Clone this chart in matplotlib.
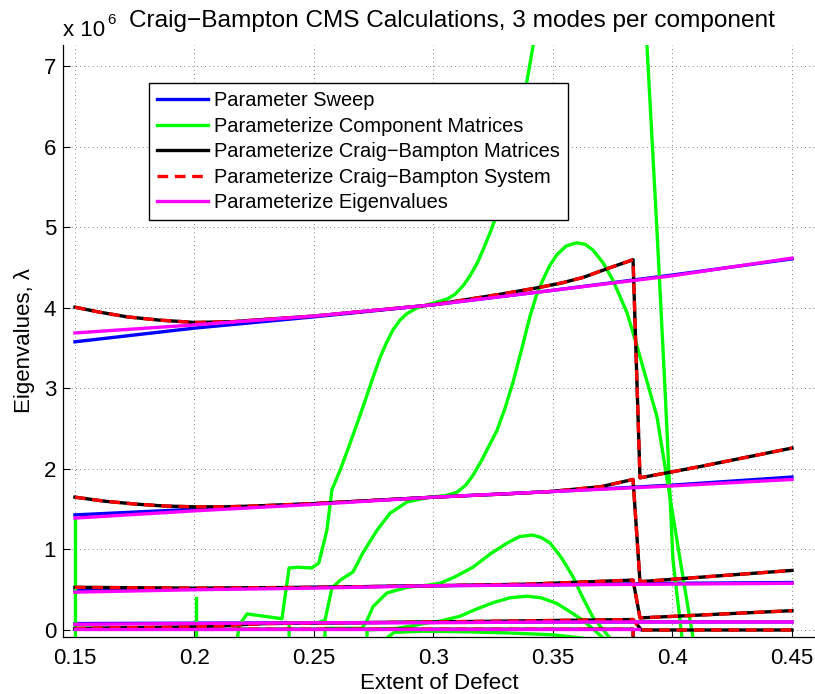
import numpy as np
import matplotlib
matplotlib.use('Agg')
import matplotlib.pyplot as plt

plt.rcParams['font.family'] = ['Liberation Sans', 'DejaVu Sans']

MINUS = '\u2212'

# eigenvalues in units of 1e6
x_grid = [0.15, 0.20, 0.25, 0.30, 0.35, 0.40, 0.45]

sweep_modes = [
    [3.58, 3.75, 3.89, 4.04, 4.22, 4.41, 4.61],
    [1.43, 1.50, 1.57, 1.65, 1.72, 1.80, 1.90],
    [0.49, 0.51, 0.53, 0.55, 0.56, 0.58, 0.59],
    [0.08, 0.085, 0.09, 0.095, 0.10, 0.10, 0.10],
]

eig_modes = [
    [3.69, 3.79, 3.90, 4.04, 4.22, 4.40, 4.62],
    [1.39, 1.48, 1.56, 1.65, 1.72, 1.79, 1.87],
    [0.47, 0.50, 0.52, 0.55, 0.56, 0.57, 0.58],
    [0.07, 0.08, 0.09, 0.09, 0.10, 0.10, 0.10],
]
eig_low_x = [0.15, 0.25, 0.35, 0.386]
eig_low_y = [0.01, 0.01, 0.01, 0.01]

# Craig-Bampton matrices / system (same values)
cb_x1 = [0.15, 0.16, 0.1718, 0.185, 0.20, 0.216, 0.23, 0.25, 0.30, 0.3278,
         0.3433, 0.3535, 0.3626, 0.3738, 0.3835, 0.3864, 0.4115, 0.45]
cb_y1 = [4.01, 3.95, 3.89, 3.85, 3.82, 3.83, 3.86, 3.90, 4.04, 4.17,
         4.25, 4.31, 4.38, 4.50, 4.60, 1.89, 2.03, 2.26]
cb_x2 = [0.15, 0.1625, 0.175, 0.1875, 0.20, 0.2125, 0.225, 0.25, 0.30, 0.33,
         0.3488, 0.37, 0.3835, 0.3864, 0.45]
cb_y2 = [1.65, 1.60, 1.565, 1.54, 1.53, 1.53, 1.54, 1.57, 1.65, 1.69,
         1.72, 1.78, 1.87, 0.60, 0.74]
cb_x3 = [0.15, 0.20, 0.25, 0.30, 0.34, 0.3835, 0.3864, 0.45]
cb_y3 = [0.53, 0.52, 0.53, 0.55, 0.57, 0.62, 0.15, 0.24]
cb_x4 = [0.15, 0.20, 0.23, 0.30, 0.3835, 0.387, 0.45]
cb_y4 = [0.02, 0.04, 0.08, 0.10, 0.13, 0.00, 0.00]
cb_x5 = [0.15, 0.3835, 0.3836]
cb_y5 = [0.01, 0.01, -0.50]

# component-matrix parameterization
comp_xa = [0.2180, 0.2187, 0.222, 0.2366, 0.2396, 0.243, 0.249, 0.252, 0.2554,
           0.2575, 0.261, 0.2645, 0.268, 0.2713, 0.2745, 0.2776, 0.2805, 0.2831,
           0.286, 0.2889, 0.293, 0.2999, 0.3056, 0.309, 0.3125, 0.3153, 0.3185,
           0.3207, 0.3235, 0.3257, 0.3292, 0.3328, 0.339, 0.3425]
comp_ya = [-0.10, 0.06, 0.20, 0.14, 0.77, 0.78, 0.77, 0.83, 1.24,
           1.74, 1.99, 2.27, 2.56, 2.84, 3.12, 3.38, 3.58, 3.73,
           3.85, 3.93, 4.00, 4.06, 4.11, 4.17, 4.28, 4.40, 4.57,
           4.72, 4.92, 5.10, 5.55, 6.00, 6.80, 7.40]
comp_xb = [0.2396, 0.2396, 0.2513, 0.2546, 0.2575, 0.261, 0.2663, 0.2705,
           0.2764, 0.2818, 0.2889, 0.2985, 0.3050, 0.3098, 0.3135, 0.3165,
           0.32, 0.3266, 0.33, 0.3333, 0.337, 0.3404, 0.343, 0.3458, 0.3487,
           0.3516, 0.3555, 0.36, 0.3635, 0.3667, 0.371, 0.375, 0.381, 0.3852,
           0.3935, 0.4032, 0.4086]
comp_yb = [-0.10, 0.09, 0.09, 0.12, 0.52, 0.62, 0.72, 0.96,
           1.24, 1.45, 1.59, 1.65, 1.67, 1.71, 1.80, 1.92,
           2.10, 2.48, 2.76, 3.08, 3.50, 3.90, 4.15, 4.35, 4.53,
           4.66, 4.77, 4.81, 4.79, 4.72, 4.56, 4.35, 3.94, 3.52,
           2.65, 0.87, -0.10]
comp_xc = [0.2546, 0.2546, 0.27, 0.2722, 0.2747, 0.2805, 0.2889, 0.2985, 0.3027,
           0.309, 0.3165, 0.324, 0.3308, 0.336, 0.3412, 0.345, 0.3488, 0.3535,
           0.3584, 0.3625, 0.3667, 0.3738]
comp_yc = [-0.10, 0.02, 0.02, 0.12, 0.29, 0.46, 0.53, 0.56, 0.58,
           0.66, 0.78, 0.95, 1.08, 1.16, 1.18, 1.15, 1.08, 0.90,
           0.66, 0.40, 0.16, -0.10]
comp_xd = [0.2722, 0.2722, 0.2847, 0.2905, 0.2960, 0.3027, 0.311, 0.318,
           0.325, 0.332, 0.339, 0.345, 0.3516, 0.357, 0.3626, 0.371]
comp_yd = [-0.10, 0.00, 0.02, 0.05, 0.08, 0.11, 0.17, 0.26,
           0.34, 0.40, 0.42, 0.40, 0.33, 0.23, 0.12, -0.10]
comp_xe = [0.2805, 0.2835, 0.295, 0.31, 0.33, 0.35, 0.362]
comp_ye = [-0.10, -0.03, -0.015, -0.02, -0.035, -0.06, -0.10]
comp_xf = [0.15, 0.15]
comp_yf = [1.39, -0.10]
comp_xg = [0.2005, 0.2005]
comp_yg = [0.40, -0.10]
comp_xh = [0.3885, 0.3893, 0.3935, 0.3969, 0.4002, 0.4040]
comp_yh = [7.40, 7.27, 4.97, 2.98, 0.87, -0.10]

comp_curves = [(comp_xa, comp_ya), (comp_xb, comp_yb), (comp_xc, comp_yc),
               (comp_xd, comp_yd), (comp_xe, comp_ye), (comp_xf, comp_yf),
               (comp_xg, comp_yg), (comp_xh, comp_yh)]
cb_curves = [(cb_x1, cb_y1), (cb_x2, cb_y2), (cb_x3, cb_y3),
             (cb_x4, cb_y4), (cb_x5, cb_y5)]

fig = plt.figure(figsize=(8.15, 6.94), dpi=100)
ax = fig.add_axes([63/815, 1-637/694, (815-63)/815, (637-45)/694])

lw = 2.4
green = '#00ff00'
magenta = '#ff00ff'
for i, y in enumerate(sweep_modes):
    ax.plot(x_grid, y, color='#0000ff', lw=lw, zorder=2,
            label='Parameter Sweep' if i == 0 else None)
for i, (xs, ys) in enumerate(comp_curves):
    ax.plot(xs, ys, color=green, lw=lw, zorder=3,
            label='Parameterize Component Matrices' if i == 0 else None)
for i, (xs, ys) in enumerate(cb_curves):
    ax.plot(xs, ys, color='k', lw=lw, zorder=4,
            label=f'Parameterize Craig{MINUS}Bampton Matrices' if i == 0 else None)
for i, (xs, ys) in enumerate(cb_curves):
    ax.plot(xs, ys, color='#ff0000', lw=lw, dashes=(3.2, 2.0), zorder=5,
            label=f'Parameterize Craig{MINUS}Bampton System' if i == 0 else None)
for i, y in enumerate(eig_modes):
    ax.plot(x_grid, y, color=magenta, lw=lw, zorder=6,
            label='Parameterize Eigenvalues' if i == 0 else None)
ax.plot(eig_low_x, eig_low_y, color=magenta, lw=lw, zorder=6)

ax.set_xlim(0.145, 0.15 + (815-75)/2390)
ax.set_ylim(-0.087, 7.267)
ax.set_xticks([0.15, 0.2, 0.25, 0.3, 0.35, 0.4, 0.45])
ax.set_xticklabels(['0.15', '0.2', '0.25', '0.3', '0.35', '0.4', '0.45'])
ax.set_yticks(range(8))
ax.tick_params(direction='in', length=5, width=0.8, labelsize=16)
ax.tick_params(axis='x', pad=8)
ax.tick_params(axis='y', pad=5)

ax.spines['top'].set_visible(False)
ax.spines['right'].set_visible(False)
ax.spines['left'].set_linewidth(0.9)
ax.spines['bottom'].set_linewidth(0.9)

ax.grid(True, color='0.35', linewidth=0.6, linestyle=(0, (1, 4)))
ax.set_axisbelow(True)

ax.set_xlabel('Extent of Defect', fontsize=16, labelpad=3)
ax.set_ylabel('Eigenvalues, \u03bb', fontsize=16, labelpad=6)

fig.text(452/815, 1-27/694, f'Craig{MINUS}Bampton CMS Calculations, 3 modes per component',
         ha='center', va='baseline', fontsize=17.6)
fig.text(63/815, 1-36/694, 'x 10', ha='left', va='baseline', fontsize=16)
fig.text(107/815, 1-24/694, '6', ha='left', va='baseline', fontsize=11)

leg = ax.legend(loc='upper left', bbox_to_anchor=(149/815, 1-83/694),
                bbox_transform=fig.transFigure, fontsize=14.4, fancybox=False,
                framealpha=1, edgecolor='k', handlelength=2.55,
                handletextpad=0.3, borderpad=0.4, labelspacing=0.33,
                borderaxespad=0)
leg.get_frame().set_linewidth(1.0)
leg.set_zorder(10)

fig.savefig('out.png', dpi=100)
